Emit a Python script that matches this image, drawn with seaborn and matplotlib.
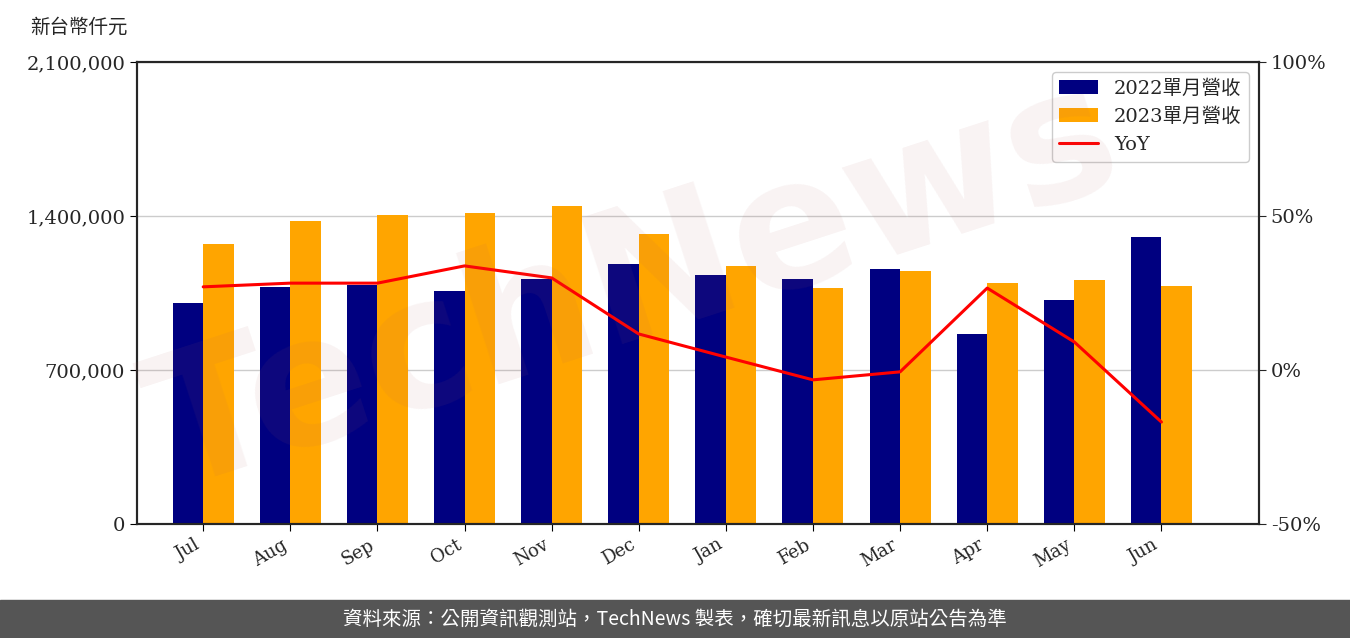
import matplotlib
matplotlib.use("Agg")
import matplotlib.pyplot as plt
import seaborn as sns
import pandas as pd
import numpy as np

months = ["Jul","Aug","Sep","Oct","Nov","Dec","Jan","Feb","Mar","Apr","May","Jun"]
rev2022 = [1004500,1077000,1086000,1059000,1114000,1182000,1132000,1114000,1159000,864000,1018000,1305000]
rev2023 = [1273000,1377000,1405000,1414000,1445000,1318000,1173000,1073000,1150000,1095000,1109000,1082000]
yoy = [27.0,28.2,28.2,33.8,29.9,11.7,4.2,-3.2,-0.6,26.6,9.1,-16.9]

sns.set_style("white")
plt.rcParams['font.family'] = ['DejaVu Serif', 'Noto Sans CJK TC']

df = pd.DataFrame({"month": months*2, "rev": rev2022+rev2023,
                   "series": ["2022單月營收"]*12 + ["2023單月營收"]*12})

fig = plt.figure(figsize=(13.5, 6.38), dpi=100)
ax = fig.add_axes([137/1350, 1-524/638, (1259-137)/1350, 462/638])
sns.barplot(data=df, x="month", y="rev", hue="series", palette=["#000080", "#FFA500"],
            width=0.7, ax=ax, saturation=1, legend=True, linewidth=0, edgecolor="none")
ax.set_ylim(0, 2100000)
ax.set_yticks([0, 700000, 1400000, 2100000])
ax.set_yticklabels(["0", "700,000", "1,400,000", "2,100,000"], fontsize=14)
ax.yaxis.grid(True, color="#cccccc", linewidth=1)
ax.set_axisbelow(True)
ax.set_xlabel(""); ax.set_ylabel("")
ax.set_xlim(-0.76, 12.12)
plt.setp(ax.get_xticklabels(), rotation=30, ha="right", fontsize=13)
for s in ax.spines.values():
    s.set_color("black"); s.set_linewidth(1.5)
ax.tick_params(axis="both", length=5, color="black", left=True, bottom=True)

ax2 = ax.twinx()
sns.lineplot(x=np.arange(12), y=yoy, color="red", linewidth=2.2, ax=ax2, label="YoY", legend=False)
ax2.set_ylim(-50, 100)
ax2.set_yticks([-50, 0, 50, 100])
ax2.set_yticklabels(["-50%", "0%", "50%", "100%"], fontsize=14)
ax2.tick_params(axis="y", length=5, right=True)
for s in ax2.spines.values():
    s.set_linewidth(1.5)

h1, l1 = ax.get_legend_handles_labels()
h2, l2 = ax2.get_legend_handles_labels()
ax.get_legend().remove()
ax2.legend(h1+h2, l1+l2, loc="upper right", fontsize=14, framealpha=1)

fig.text(30/1350, 1-27/638, "新台幣仟元", fontsize=14, va="center")
fig.text(0.47, 0.55, "TechNews", fontsize=130, color="#b06060", alpha=0.08,
         rotation=18, ha="center", va="center", fontweight="bold", family="DejaVu Sans")
fig.patches.append(plt.Rectangle((0, 0), 1, 38/638, transform=fig.transFigure,
                                 color="#555555", zorder=-1))
fig.text(0.5, 19/638, "資料來源：公開資訊觀測站，TechNews 製表，確切最新訊息以原站公告為準",
         color="white", fontsize=14, ha="center", va="center", family=["Noto Sans CJK TC"])
fig.savefig("out.png", dpi=100)
